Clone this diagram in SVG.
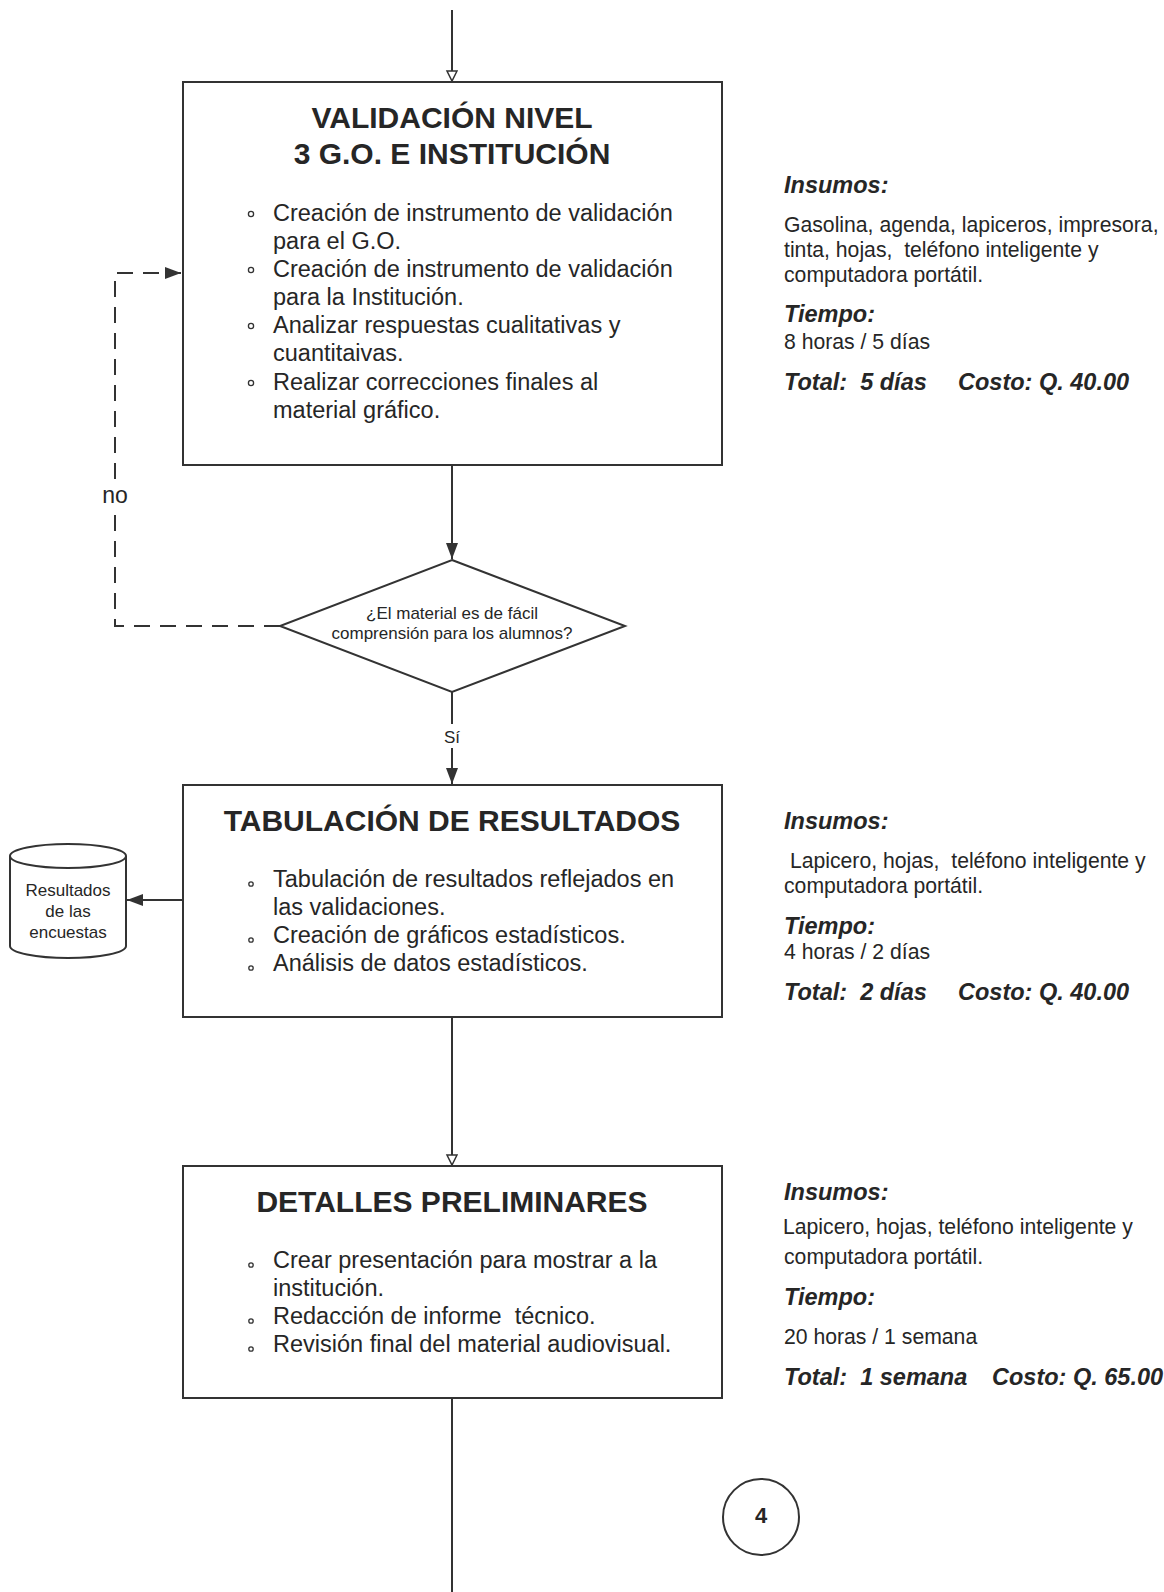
<svg xmlns="http://www.w3.org/2000/svg" width="1164" height="1592" viewBox="0 0 1164 1592">
<style>
.box{fill:#fff;stroke:#333;stroke-width:2}
.ln{fill:none;stroke:#333;stroke-width:2}
.dash{fill:none;stroke:#333;stroke-width:2;stroke-dasharray:16 10}
.t{font-family:"Liberation Sans",Arial,sans-serif;fill:#262626;white-space:pre}
.title{font-size:30px;font-weight:bold;text-anchor:middle}
.item{font-size:23.5px}
.hd{font-size:23.5px;font-weight:bold;font-style:italic}
.sd{font-size:21.2px}
.sm{font-size:17px;text-anchor:middle}
.bul{fill:none;stroke:#333;stroke-width:1.3}
</style>
<defs>
<marker id="open" markerWidth="14" markerHeight="14" refX="11" refY="6" orient="auto" markerUnits="userSpaceOnUse">
<path d="M1,1 L11,6 L1,11 Z" fill="#fff" stroke="#333" stroke-width="1.5"/>
</marker>
<marker id="fill" markerWidth="18" markerHeight="14" refX="16" refY="7" orient="auto" markerUnits="userSpaceOnUse">
<path d="M0,1 L16,7 L0,13 Z" fill="#333"/>
</marker>
</defs>
<rect width="1164" height="1592" fill="#fff"/>

<g id="connectors">
<line class="ln" x1="452" y1="10" x2="452" y2="81" marker-end="url(#open)"/>
<line class="ln" x1="452" y1="465" x2="452" y2="559" marker-end="url(#fill)"/>
<polyline class="dash" points="280,626 115,626 115,273 181,273" marker-end="url(#fill)"/>
<rect x="100" y="480" width="32" height="28" fill="#fff"/>
<text class="t" x="115" y="503" font-size="23" text-anchor="middle">no</text>
<line class="ln" x1="452" y1="692" x2="452" y2="784" marker-end="url(#fill)"/>
<rect x="438" y="724" width="28" height="24" fill="#fff"/>
<text class="t" x="452" y="743" font-size="17" text-anchor="middle">Sí</text>
<line class="ln" x1="183" y1="900" x2="127" y2="900" marker-end="url(#fill)"/>
<line class="ln" x1="452" y1="1017" x2="452" y2="1165" marker-end="url(#open)"/>
<line class="ln" x1="452" y1="1398" x2="452" y2="1592"/>
</g>

<g id="validacion">
<rect class="box" x="183" y="82" width="539" height="383"/>
<text class="t title" x="452" y="128">VALIDACIÓN NIVEL</text>
<text class="t title" x="452" y="164">3 G.O. E INSTITUCIÓN</text>
<circle class="bul" cx="251" cy="214" r="2.6"/>
<circle class="bul" cx="251" cy="270" r="2.6"/>
<circle class="bul" cx="251" cy="326" r="2.6"/>
<circle class="bul" cx="251" cy="383" r="2.6"/>
<text class="t item" x="273" y="221">Creación de instrumento de validación</text>
<text class="t item" x="273" y="249">para el G.O.</text>
<text class="t item" x="273" y="277">Creación de instrumento de validación</text>
<text class="t item" x="273" y="305">para la Institución.</text>
<text class="t item" x="273" y="333">Analizar respuestas cualitativas y</text>
<text class="t item" x="273" y="361">cuantitaivas.</text>
<text class="t item" x="273" y="390">Realizar correcciones finales al</text>
<text class="t item" x="273" y="418">material gráfico.</text>
</g>

<g id="info1">
<text class="t hd" x="784" y="193">Insumos:</text>
<text class="t sd" x="784" y="232">Gasolina, agenda, lapiceros, impresora,</text>
<text class="t sd" x="784" y="257">tinta, hojas,  teléfono inteligente y</text>
<text class="t sd" x="784" y="282">computadora portátil.</text>
<text class="t hd" x="784" y="322">Tiempo:</text>
<text class="t sd" x="784" y="349">8 horas / 5 días</text>
<text class="t hd" x="784" y="390">Total:  5 días</text>
<text class="t hd" x="958" y="390">Costo: Q. 40.00</text>
</g>

<g id="decision">
<polygon class="box" points="452,560 625,626 452,692 280,626"/>
<text class="t sm" x="452" y="619">¿El material es de fácil</text>
<text class="t sm" x="452" y="639">comprensión para los alumnos?</text>
</g>

<g id="tabulacion">
<rect class="box" x="183" y="785" width="539" height="232"/>
<text class="t title" x="452" y="831">TABULACIÓN DE RESULTADOS</text>
<circle class="bul" cx="251" cy="884" r="2.2"/>
<circle class="bul" cx="251" cy="940" r="2.2"/>
<circle class="bul" cx="251" cy="968" r="2.2"/>
<text class="t item" x="273" y="887">Tabulación de resultados reflejados en</text>
<text class="t item" x="273" y="915">las validaciones.</text>
<text class="t item" x="273" y="943">Creación de gráficos estadísticos.</text>
<text class="t item" x="273" y="971">Análisis de datos estadísticos.</text>
</g>

<g id="resultados">
<path class="box" d="M10,856 L10,946 A58,12 0 0 0 126,946 L126,856 A58,12 0 0 0 10,856 Z"/>
<path class="ln" d="M10,856 A58,12 0 0 0 126,856"/>
<text class="t sm" x="68" y="896">Resultados</text>
<text class="t sm" x="68" y="917">de las</text>
<text class="t sm" x="68" y="938">encuestas</text>
</g>

<g id="info2">
<text class="t hd" x="784" y="829">Insumos:</text>
<text class="t sd" x="784" y="868"> Lapicero, hojas,  teléfono inteligente y</text>
<text class="t sd" x="784" y="893">computadora portátil.</text>
<text class="t hd" x="784" y="934">Tiempo:</text>
<text class="t sd" x="784" y="959">4 horas / 2 días</text>
<text class="t hd" x="784" y="1000">Total:  2 días</text>
<text class="t hd" x="958" y="1000">Costo: Q. 40.00</text>
</g>

<g id="detalles">
<rect class="box" x="183" y="1166" width="539" height="232"/>
<text class="t title" x="452" y="1212">DETALLES PRELIMINARES</text>
<circle class="bul" cx="251" cy="1265" r="2.2"/>
<circle class="bul" cx="251" cy="1321" r="2.2"/>
<circle class="bul" cx="251" cy="1349" r="2.2"/>
<text class="t item" x="273" y="1268">Crear presentación para mostrar a la</text>
<text class="t item" x="273" y="1296">institución.</text>
<text class="t item" x="273" y="1324">Redacción de informe  técnico.</text>
<text class="t item" x="273" y="1352">Revisión final del material audiovisual.</text>
</g>

<g id="info3">
<text class="t hd" x="784" y="1200">Insumos:</text>
<text class="t sd" x="783" y="1234">Lapicero, hojas, teléfono inteligente y</text>
<text class="t sd" x="784" y="1264">computadora portátil.</text>
<text class="t hd" x="784" y="1305">Tiempo:</text>
<text class="t sd" x="784" y="1344">20 horas / 1 semana</text>
<text class="t hd" x="784" y="1385">Total:  1 semana</text>
<text class="t hd" x="992" y="1385">Costo: Q. 65.00</text>
</g>

<g id="page">
<circle class="ln" cx="761" cy="1517" r="38"/>
<text class="t" x="761" y="1523" font-size="22" font-weight="bold" text-anchor="middle">4</text>
</g>
</svg>
